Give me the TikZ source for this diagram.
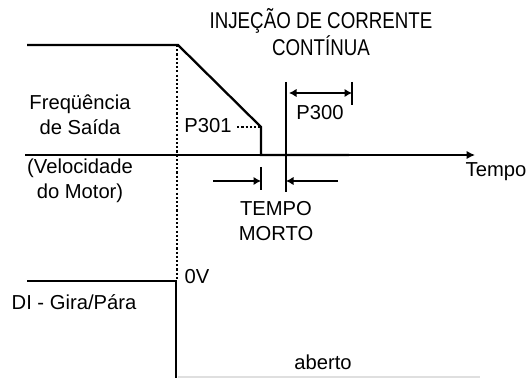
\documentclass[tikz,border=0pt]{standalone}
\usepackage{fontspec}
\setmainfont{Liberation Sans}
\newfontfamily\titlefont[FakeStretch=0.82]{Liberation Sans}
\usetikzlibrary{arrows.meta, positioning, calc}

\begin{document}
\begin{tikzpicture}[x=0.02cm, y=-0.02cm,
    signal/.style={line width=1.3pt},
    axisline/.style={line width=0.9pt, -{Latex[length=1.7mm, width=1.7mm]}},
    marker/.style={line width=0.9pt},
    dimarrow/.style={line width=1.1pt, -{Latex[length=1.5mm, width=1.7mm]}},
    label/.style={font=\fontsize{11.5}{14.2}\selectfont, align=center, inner sep=0pt}]
    \useasboundingbox (0,0) rectangle (531,378);

    % --- Output frequency ---
    \coordinate (f0) at (27,45);
    \coordinate (f1) at (178,45);
    \coordinate (f2) at (261,127);
    \coordinate (f3) at (261,155);
    \coordinate (f4) at (349,155);
    \draw[signal] (f0) -- (f1) -- (f2) -- (f3) -- (f4);

    % --- Time axis ---
    \coordinate (ax0) at (25,155);
    \coordinate (ax1) at (475,155);
    \draw[axisline] (ax0) -- (ax1);
    \node[label] (tempo) at (496,172) {Tempo};

    % Stop instant (dotted)
    \coordinate (d0) at (177,45);
    \coordinate (d1) at (177,281);
    \draw[dash pattern=on 1.2pt off 1.2pt, line width=0.7pt] (d0) -- (d1);

    % P301 level
    \node[label] (p301) at (208,126) {P301};
    \draw[dash pattern=on 1.2pt off 1.2pt, line width=0.6pt] ([xshift=3pt]p301.east |- f2) -- (f2);

    % --- DC injection ---
    \node[label, font=\titlefont\fontsize{13}{15.4}\selectfont] (dci) at (321,32)
      {INJEÇÃO DE CORRENTE\\CONTÍNUA};
    \coordinate (dc0) at (286,82);
    \coordinate (dc1) at (286,192);
    \draw[marker] (dc0) -- (dc1);
    \coordinate (pt0) at (352,82);
    \coordinate (pt1) at (352,105);
    \draw[marker] (pt0) -- (pt1);
    \draw[dimarrow, {Latex[length=1.5mm, width=1.7mm]}-{Latex[length=1.5mm, width=1.7mm]}]
      (289,93) -- (pt0 |- 0,93);
    \node[label] (p300) at (320,113) {P300};

    % --- Dead time ---
    \coordinate (tk0) at (261,167);
    \coordinate (tk1) at (261,190);
    \draw[marker] (tk0) -- (tk1);
    \coordinate (ma) at (213,181);
    \coordinate (mb) at (338,181);
    \draw[dimarrow] (ma) -- (tk0 |- ma);
    \draw[dimarrow] (mb) -- (dc0 |- mb);
    \node[label] (morto) at (276,221) {TEMPO\\MORTO};

    % --- Left labels ---
    \node[label, anchor=south] (freq) at (80,135) {Freqüência\\de Saída};
    \node[label, anchor=north] (vel) at (80,159) {(Velocidade\\do Motor)};

    % --- Digital input ---
    \coordinate (di0) at (27,281);
    \coordinate (di1) at (176,281);
    \coordinate (di2) at (176,378);
    \draw[signal] (di0) -- (di1) -- (di2);
    \draw[gray!25, line width=0.8pt] (178,377) -- (480,377);
    \node[label] (zv) at (197,277) {0V};
    \node[label] (gira) at (74,302) {DI - Gira/Pára};
    \node[label] (aberto) at (323,362) {aberto};
  \end{tikzpicture}
\end{document}
